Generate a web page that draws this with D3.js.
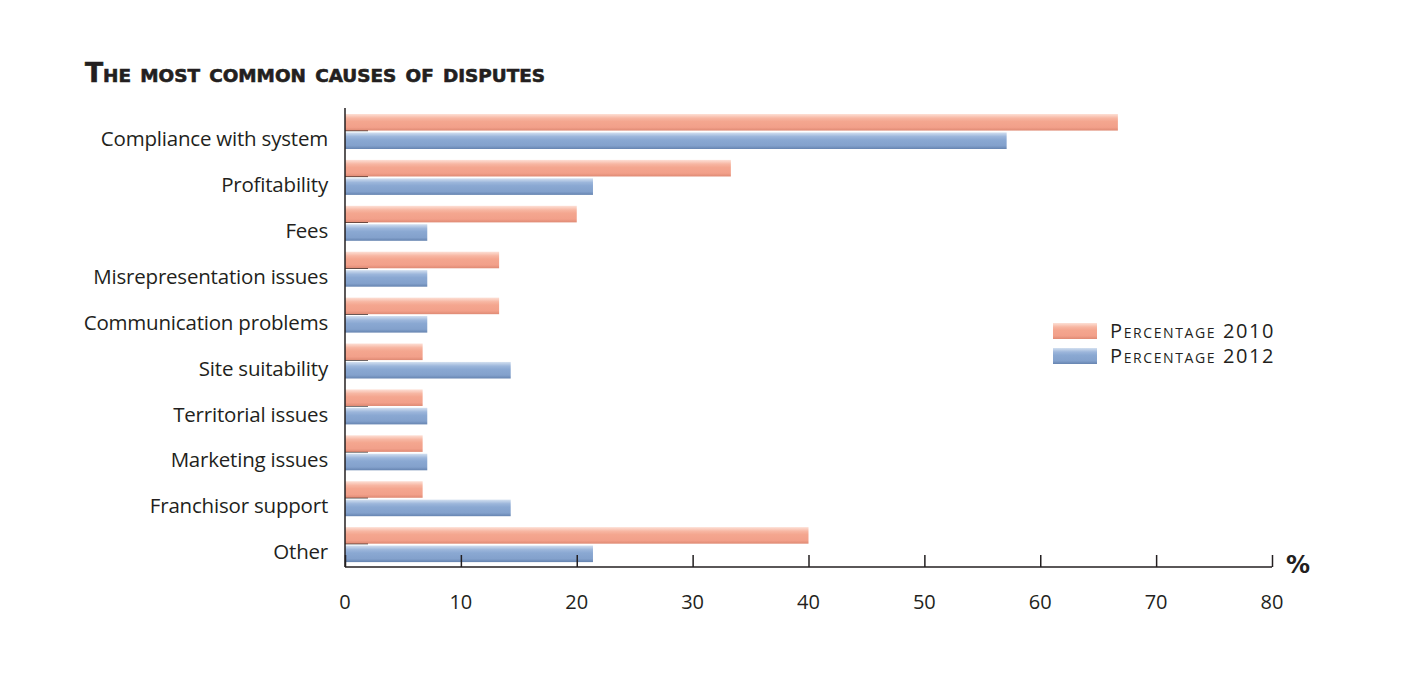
<!DOCTYPE html>
<html>
<head>
<meta charset="utf-8">
<script src="https://cdn.jsdelivr.net/npm/d3@7"></script>
<style>
  body { margin: 0; background: #fff; }
</style>
</head>
<body>
<div class="root"></div>
<script>
// Chart data
var categories = ["Compliance with system", "Profitability", "Fees", "Misrepresentation issues",
    "Communication problems", "Site suitability", "Territorial issues", "Marketing issues",
    "Franchisor support", "Other"];
var series = ["Percentage 2010", "Percentage 2012"];
var values2010 = [66.7, 33.3, 20.0, 13.3, 13.3, 6.7, 6.7, 6.7, 6.7, 40.0];
var values2012 = [57.1, 21.4, 7.1, 7.1, 7.1, 14.3, 7.1, 7.1, 14.3, 21.4];
var xTicks = [0, 10, 20, 30, 40, 50, 60, 70, 80];

var width = 1424, height = 688;
var plotLeft = 345, plotRight = 1272, plotTop = 108, plotBottom = 567;

var labelFont = "'Open Sans', sans-serif";

var svg = d3.select(".root").append("svg")
    .attr("width", width)
    .attr("height", height);

// gradients for the bars
var defs = svg.append("defs");
var colors = [
    { id: "g2010", stops: ["#fde0d6", "#f7b6a2", "#f4a68f", "#f2a08a", "#df8a74"] },
    { id: "g2012", stops: ["#d3e0f0", "#9cb6db", "#8aa8d2", "#83a1cc", "#6684b0"] }
];
colors.forEach(function (c) {
    var g = defs.append("linearGradient").attr("id", c.id)
        .attr("x1", 0).attr("y1", 0).attr("x2", 0).attr("y2", 1);
    var offs = [0, 0.25, 0.45, 0.8, 1];
    c.stops.forEach(function (s, i) {
        g.append("stop").attr("offset", offs[i]).attr("stop-color", s);
    });
});

var xScale = d3.scaleLinear().domain([0, 80]).range([plotLeft, plotRight]);
var yScale = d3.scaleBand().domain(categories).range([plotTop, plotBottom]);
var ySub = d3.scaleBand().domain(series).range([6, 41]).paddingInner(0.1);

var rows = categories.map(function (c, i) {
    return { cat: c, vals: [values2010[i], values2012[i]] };
});

// small inward ticks on the category axis
svg.append("g").selectAll("line")
    .data(categories)
    .join("line")
    .attr("x1", plotLeft).attr("x2", plotLeft + 23)
    .attr("y1", function (d) { return yScale(d) + yScale.bandwidth() / 2 - 0.5; })
    .attr("y2", function (d) { return yScale(d) + yScale.bandwidth() / 2 - 0.5; })
    .attr("stroke", "#231f20")
    .attr("stroke-width", 1.5);

// bars
var grp = svg.append("g").selectAll("g")
    .data(rows)
    .join("g")
    .attr("transform", function (d) { return "translate(0," + yScale(d.cat) + ")"; });

grp.selectAll("rect")
    .data(function (d) { return d.vals.map(function (v, i) { return { s: series[i], v: v, i: i }; }); })
    .join("rect")
    .attr("x", xScale(0))
    .attr("y", function (d) { return ySub(d.s); })
    .attr("width", function (d) { return xScale(d.v) - xScale(0); })
    .attr("height", ySub.bandwidth())
    .attr("fill", function (d) { return d.i === 0 ? "url(#g2010)" : "url(#g2012)"; });

// category labels
svg.append("g").selectAll("text")
    .data(categories)
    .join("text")
    .attr("x", 328)
    .attr("y", function (d) { return yScale(d) + yScale.bandwidth() / 2 + 8; })
    .attr("dy", "0.35em")
    .attr("text-anchor", "end")
    .attr("font-family", labelFont)
    .attr("font-size", 20.5)
    .attr("letter-spacing", -0.2)
    .attr("fill", "#231f20")
    .text(function (d) { return d; });

// Y axis line
svg.append("line")
    .attr("x1", plotLeft).attr("x2", plotLeft)
    .attr("y1", plotTop).attr("y2", plotBottom)
    .attr("stroke", "#231f20").attr("stroke-width", 1.5);

// X axis with inward ticks
var xAxis = d3.axisTop(xScale)
    .tickValues(xTicks)
    .tickSize(12)
    .tickFormat("");
svg.append("g")
    .attr("transform", "translate(0," + plotBottom + ")")
    .call(xAxis)
    .call(function (g) {
        g.select(".domain").attr("stroke", "#231f20").attr("stroke-width", 1.5)
            .attr("d", "M" + plotLeft + ",0H" + plotRight);
        g.selectAll(".tick line").attr("stroke", "#231f20").attr("stroke-width", 1.5);
    });

// X tick labels
svg.append("g").selectAll("text")
    .data(xTicks)
    .join("text")
    .attr("x", function (d) { return xScale(d); })
    .attr("y", 602)
    .attr("dy", "0.35em")
    .attr("text-anchor", "middle")
    .attr("font-family", labelFont)
    .attr("font-size", 20)
    .attr("fill", "#231f20")
    .text(function (d) { return d; });

// % unit
svg.append("text")
    .attr("x", 1298)
    .attr("y", 573)
    .attr("text-anchor", "middle")
    .attr("font-family", "'DejaVu Sans', sans-serif")
    .attr("font-weight", 700)
    .attr("font-size", 24)
    .attr("fill", "#231f20")
    .text("%");

// Title
svg.append("text")
    .attr("x", 85)
    .attr("y", 82)
    .attr("font-family", "'DejaVu Sans', sans-serif")
    .attr("font-weight", 700)
    .attr("font-size", 26)
    .attr("font-variant", "small-caps")
    .attr("textLength", 460)
    .attr("lengthAdjust", "spacingAndGlyphs")
    .attr("stroke", "#231f20")
    .attr("stroke-width", 0.6)
    .attr("fill", "#231f20")
    .text("The most common causes of disputes");

// Legend
var legend = svg.append("g").selectAll("g")
    .data(series)
    .join("g")
    .attr("transform", function (d, i) { return "translate(1053," + (323 + i * 25) + ")"; });

legend.append("rect")
    .attr("width", 44)
    .attr("height", 16)
    .attr("fill", function (d, i) { return i === 0 ? "url(#g2010)" : "url(#g2012)"; });

legend.append("text")
    .attr("x", 57)
    .attr("y", 8)
    .attr("dy", "0.35em")
    .attr("font-family", labelFont)
    .attr("font-size", 20)
    .attr("font-variant", "small-caps")
    .attr("letter-spacing", 1.6)
    .attr("fill", "#231f20")
    .text(function (d) { return d; });
</script>
</body>
</html>
